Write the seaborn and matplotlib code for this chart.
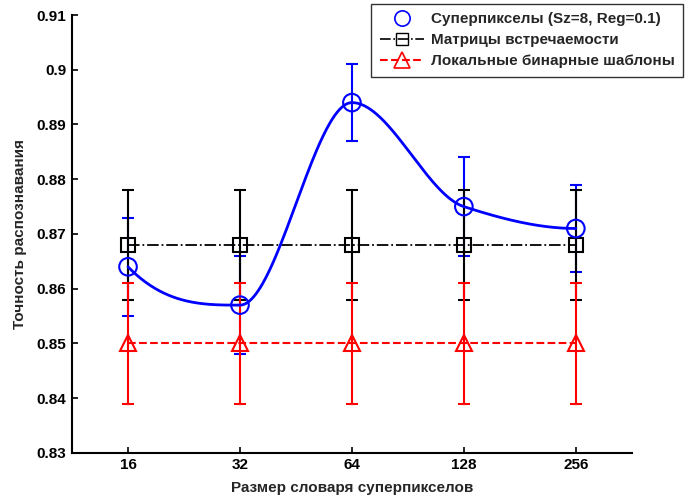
import numpy as np
import pandas as pd
import matplotlib
matplotlib.use("Agg")
import matplotlib.pyplot as plt
import seaborn as sns
from matplotlib.lines import Line2D

# ---- data ----
dict_sizes = ["16", "32", "64", "128", "256"]
sp_mean = [0.864, 0.857, 0.894, 0.875, 0.871]
sp_low = [0.855, 0.848, 0.887, 0.866, 0.863]
sp_high = [0.873, 0.866, 0.901, 0.884, 0.879]
cm_mean = [0.868, 0.868, 0.868, 0.868, 0.868]
cm_err = [0.010, 0.010, 0.010, 0.010, 0.010]
lbp_mean = [0.850, 0.850, 0.850, 0.850, 0.850]
lbp_err = [0.011, 0.011, 0.011, 0.011, 0.011]
labels = ["Суперпикселы (Sz=8, Reg=0.1)", "Матрицы встречаемости", "Локальные бинарные шаблоны"]
yticks = [0.83, 0.84, 0.85, 0.86, 0.87, 0.88, 0.89, 0.90, 0.91]

sns.set_theme(style="white")
plt.rcParams["font.family"] = ["Liberation Sans", "DejaVu Sans"]
plt.rcParams["font.weight"] = "bold"


def pchip_curve(x, y, n=400):
    x = np.asarray(x, float); y = np.asarray(y, float)
    h = np.diff(x); delta = np.diff(y) / h
    m = len(x); d = np.zeros(m)
    for k in range(1, m - 1):
        if delta[k - 1] * delta[k] > 0:
            w1 = 2 * h[k] + h[k - 1]; w2 = h[k] + 2 * h[k - 1]
            d[k] = (w1 + w2) / (w1 / delta[k - 1] + w2 / delta[k])
    def end(h0, h1, d0, d1):
        s = ((2 * h0 + h1) * d0 - h0 * d1) / (h0 + h1)
        if np.sign(s) != np.sign(d0):
            s = 0.0
        elif np.sign(d0) != np.sign(d1) and abs(s) > abs(3 * d0):
            s = 3 * d0
        return s
    d[0] = end(h[0], h[1], delta[0], delta[1])
    d[-1] = end(h[-1], h[-2], delta[-1], delta[-2])
    xs = np.linspace(x[0], x[-1], n); ys = np.empty_like(xs)
    for i, xv in enumerate(xs):
        k = min(np.searchsorted(x, xv, side="right") - 1, m - 2)
        t = (xv - x[k]) / h[k]
        h00 = 2 * t**3 - 3 * t**2 + 1; h10 = t**3 - 2 * t**2 + t
        h01 = -2 * t**3 + 3 * t**2; h11 = t**3 - t**2
        ys[i] = h00 * y[k] + h10 * h[k] * d[k] + h01 * y[k + 1] + h11 * h[k] * d[k + 1]
    return xs, ys


pos = np.arange(1, len(dict_sizes) + 1)
fig = plt.figure(figsize=(6.86, 5.01), dpi=100)
ax = fig.add_axes([0.105, 0.096, 0.816, 0.874])

# error bars
sp_mean_a = np.array(sp_mean)
ax.errorbar(pos, sp_mean, yerr=[sp_mean_a - np.array(sp_low), np.array(sp_high) - sp_mean_a],
            fmt="none", ecolor="blue", elinewidth=1.5, capsize=4, capthick=1.5, zorder=2)
ax.errorbar(pos, cm_mean, yerr=cm_err, fmt="none", ecolor="black", elinewidth=1.5,
            capsize=4, capthick=1.5, zorder=3)
ax.errorbar(pos, lbp_mean, yerr=lbp_err, fmt="none", ecolor="red", elinewidth=1.5,
            capsize=4, capthick=1.5, zorder=4)

# lines
df_cm = pd.DataFrame({"x": pos, "y": cm_mean})
df_lbp = pd.DataFrame({"x": pos, "y": lbp_mean})
sns.lineplot(data=df_cm, x="x", y="y", ax=ax, color="black", linestyle="-.", linewidth=1.3,
             marker="s", markersize=10, markerfacecolor="none", markeredgecolor="black",
             markeredgewidth=1.5, zorder=5)
sns.lineplot(data=df_lbp, x="x", y="y", ax=ax, color="red", linestyle="--", linewidth=1.5,
             marker="^", markersize=12, markerfacecolor="none", markeredgecolor="red",
             markeredgewidth=1.5, zorder=5)
xs, ys = pchip_curve(pos, sp_mean)
sns.lineplot(x=xs, y=ys, ax=ax, color="blue", linewidth=2, zorder=6, estimator=None, sort=False)
sns.scatterplot(x=pos, y=sp_mean, ax=ax, marker="o", s=160, facecolor="none",
                edgecolor="blue", linewidth=1.5, zorder=7)

ax.set_xlim(0.5, 5.5)
ax.set_ylim(0.83, 0.91)
ax.set_xticks(pos)
ax.set_xticklabels(dict_sizes)
ax.set_yticks(yticks)
ax.set_yticklabels(["%g" % v for v in yticks])
ax.tick_params(direction="in", length=4, width=1.2, labelsize=11, colors="black", pad=4,
               left=True, bottom=True)
for t in ax.get_xticklabels() + ax.get_yticklabels():
    t.set_fontweight("bold")
for s in ["top", "right"]:
    ax.spines[s].set_visible(False)
for s in ["left", "bottom"]:
    ax.spines[s].set_color("black")
    ax.spines[s].set_linewidth(1.5)
ax.set_xlabel("Размер словаря суперпикселов", fontsize=11, fontweight="bold")
ax.set_ylabel("Точность распознавания", fontsize=11, fontweight="bold")
ax.xaxis.set_label_coords(0.5, -0.065)
ax.yaxis.set_label_coords(-0.08, 0.5)

handles = [
    Line2D([], [], linestyle="none", marker="o", markersize=11, markerfacecolor="none",
           markeredgecolor="blue", markeredgewidth=1.2),
    Line2D([], [], color="black", linestyle="-.", linewidth=1.2, marker="s", markersize=9,
           markerfacecolor="none", markeredgecolor="black", markeredgewidth=1.0),
    Line2D([], [], color="red", linestyle="--", linewidth=1.5, marker="^", markersize=11,
           markerfacecolor="none", markeredgecolor="red", markeredgewidth=1.2),
]
leg = fig.legend(handles, labels, loc="upper right", bbox_to_anchor=(0.996, 0.992),
                 frameon=True, fancybox=False, borderaxespad=0, prop={"weight": "bold", "size": 11},
                 handlelength=2.9, labelspacing=0.45, borderpad=0.55, handletextpad=0.45)
leg.get_frame().set_edgecolor("black")
leg.get_frame().set_linewidth(1.0)

fig.savefig("out.png", dpi=100)
